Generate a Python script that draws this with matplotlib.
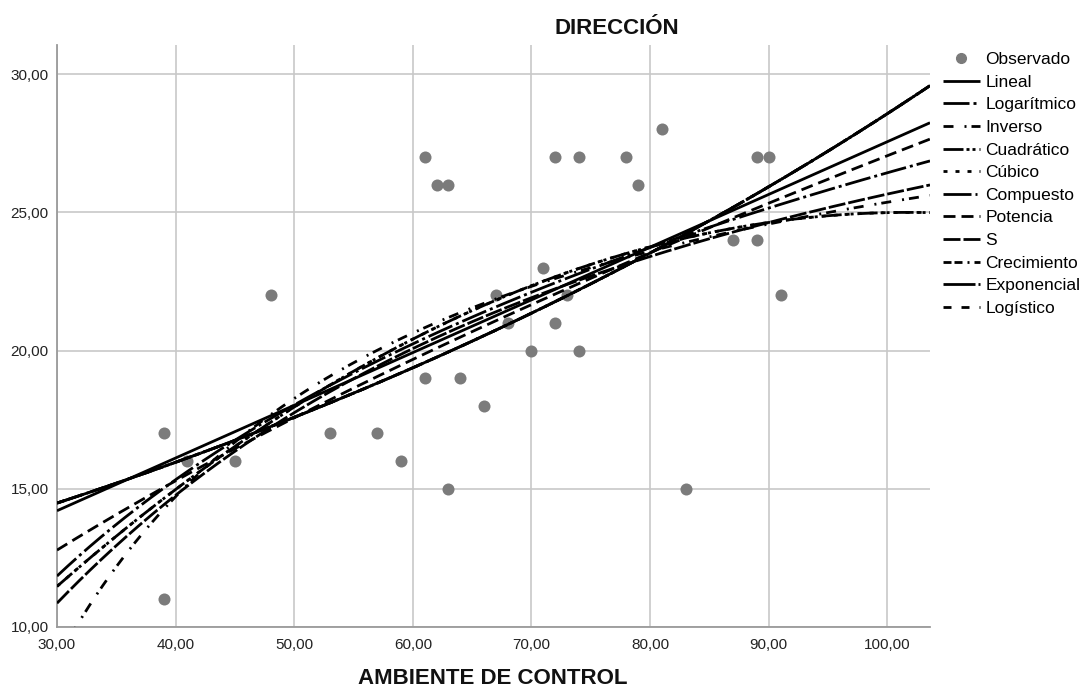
import numpy as np
import matplotlib
matplotlib.use("Agg")
import matplotlib.pyplot as plt
from matplotlib.lines import Line2D

# Observed data (AMBIENTE DE CONTROL vs DIRECCIÓN)
obs_x = [39, 39, 41, 45, 48, 53, 57, 59, 61, 63, 64, 66, 61, 62, 63, 72, 74,
         78, 79, 81, 89, 90, 87, 89, 91, 71, 67, 73, 68, 72, 70, 74, 83]
obs_y = [17, 11, 16, 16, 22, 17, 17, 16, 19, 15, 19, 18, 27, 26, 26, 27, 27,
         27, 26, 28, 27, 27, 24, 24, 22, 23, 22, 22, 21, 21, 20, 20, 15]

x_ticks = [30, 40, 50, 60, 70, 80, 90, 100]
y_ticks = [10, 15, 20, 25, 30]
model_names = ["Lineal", "Logarítmico", "Inverso", "Cuadrático", "Cúbico",
               "Compuesto", "Potencia", "S", "Crecimiento", "Exponencial",
               "Logístico"]

plt.rcParams['font.family'] = ['Liberation Sans', 'DejaVu Sans']

X = np.array(obs_x, float)
Y = np.array(obs_y, float)
xmin, xmax = 30, 103.6
xx = np.linspace(xmin, xmax, 400)


def fit_curves():
    out = {}
    p = np.polyfit(X, Y, 1); out["Lineal"] = np.polyval(p, xx)
    p = np.polyfit(np.log(X), Y, 1); out["Logarítmico"] = np.polyval(p, np.log(xx))
    p = np.polyfit(1 / X, Y, 1); out["Inverso"] = np.polyval(p, 1 / xx)
    p = np.polyfit(X, Y, 2); out["Cuadrático"] = np.polyval(p, xx)
    # cubic term removed by the tolerance criterion -> same as quadratic
    p = np.polyfit(X, Y, 2); out["Cúbico"] = np.polyval(p, xx)
    p = np.polyfit(X, np.log(Y), 1); out["Compuesto"] = np.exp(np.polyval(p, xx))
    p = np.polyfit(np.log(X), np.log(Y), 1); out["Potencia"] = np.exp(np.polyval(p, np.log(xx)))
    p = np.polyfit(1 / X, np.log(Y), 1); out["S"] = np.exp(np.polyval(p, 1 / xx))
    p = np.polyfit(X, np.log(Y), 1); out["Crecimiento"] = np.exp(np.polyval(p, xx))
    p = np.polyfit(X, np.log(Y), 1); out["Exponencial"] = np.exp(np.polyval(p, xx))
    p = np.polyfit(X, np.log(1 / Y), 1); out["Logístico"] = 1 / np.exp(np.polyval(p, xx))
    return out


px = 0.72  # pixels -> points at 100 dpi
styles = {
    "Lineal": None,
    "Logarítmico": (26, 4, 3, 4),
    "Inverso": (10, 11, 2, 5),
    "Cuadrático": (20, 3, 3, 3, 3, 4),
    "Cúbico": (4, 8),
    "Compuesto": (28, 4, 2, 4),
    "Potencia": (12, 6),
    "S": (17, 3),
    "Crecimiento": (8, 3, 8, 5, 2, 5),
    "Exponencial": (32, 3, 2, 3),
    "Logístico": (8, 10),
}

fig = plt.figure(figsize=(10.91, 6.95), dpi=100)
ax = fig.add_axes([57 / 1091, 1 - 627 / 695, (930 - 57) / 1091, (627 - 45) / 695])
ax.set_xlim(xmin, xmax)
ax.set_ylim(10, 31.05)

ax.set_xticks(x_ticks)
ax.set_yticks(y_ticks)
ax.set_xticklabels([f"{v:.2f}".replace(".", ",") for v in x_ticks])
ax.set_yticklabels([f"{v:.2f}".replace(".", ",") for v in y_ticks])
ax.tick_params(length=0, labelsize=11, colors="#222222")
ax.tick_params(axis="x", pad=8)
ax.tick_params(axis="y", pad=6)
ax.grid(True, color="#c8c8c8", linewidth=1.2)
ax.set_axisbelow(True)
for s in ["top", "right"]:
    ax.spines[s].set_visible(False)
for s in ["left", "bottom"]:
    ax.spines[s].set_color("#9a9a9a")
    ax.spines[s].set_linewidth(1.3)

handles = []
ax.scatter(X, Y, s=75, color="#7b7b7b", zorder=3, linewidths=0, label="Observado")
handles.append(Line2D([], [], marker="o", linestyle="none", color="#7b7b7b",
                      markersize=7, label="Observado"))

curves = fit_curves()
lw = 2.0
for name in model_names:
    st = styles[name]
    line, = ax.plot(xx, curves[name], color="black", lw=lw, zorder=4, label=name,
                    solid_capstyle="butt", dash_capstyle="butt")
    if st is not None:
        line.set_dashes([d * px / lw for d in st])
    handles.append(line)

ax_w = 930 - 57
ax_h = 627 - 45
leg = ax.legend(handles=handles, loc="upper left",
                bbox_to_anchor=((943 - 57) / ax_w, (627 - 52) / ax_h),
                frameon=False, fontsize=12.5, handlelength=2.13, handletextpad=0.3,
                labelspacing=0.43, borderaxespad=0.0, borderpad=0.0)

fig.text(617 / 1091, 1 - 28 / 695, "DIRECCIÓN", ha="center", va="center",
         fontsize=16, fontweight="bold", color="#111111")
fig.text(493 / 1091, 1 - 678 / 695, "AMBIENTE DE CONTROL", ha="center", va="center",
         fontsize=16, fontweight="bold", color="#111111")

fig.savefig("out.png", dpi=100)
